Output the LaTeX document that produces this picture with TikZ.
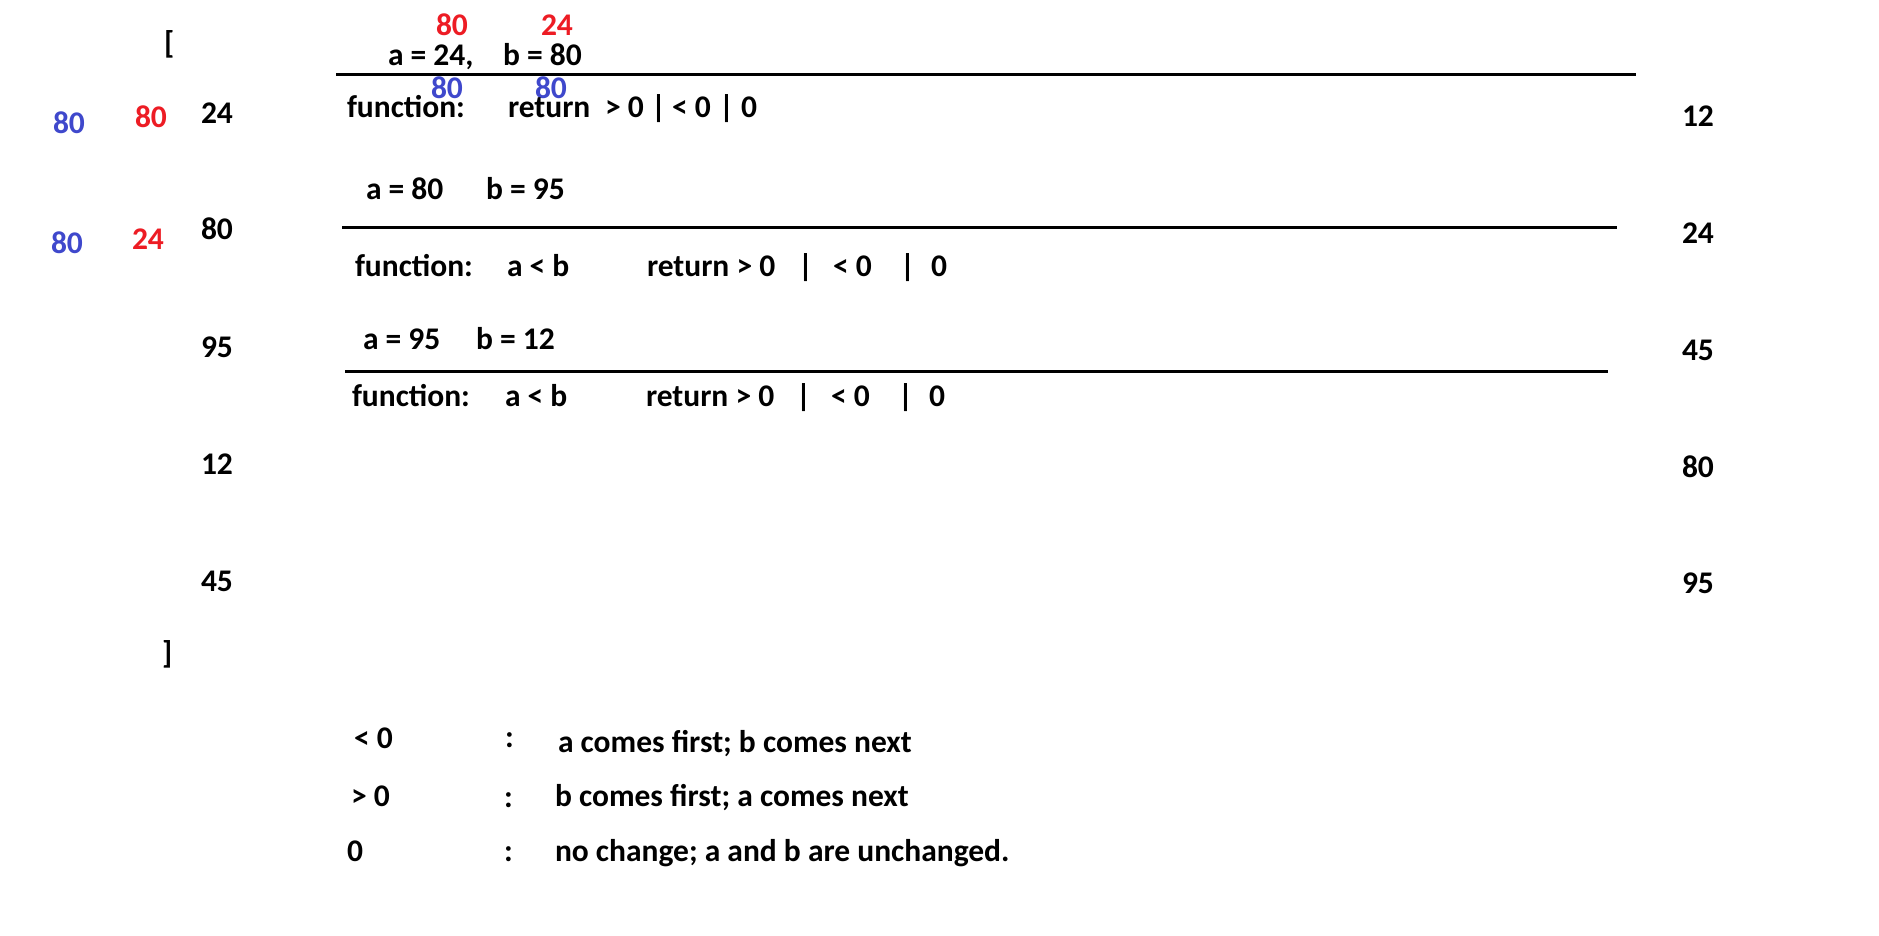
\documentclass[tikz,border=0pt]{standalone}
\usepackage{fontspec}
\setmainfont{Carlito}
\definecolor{pred}{HTML}{ED1C24}
\definecolor{pblue}{HTML}{3F48CC}
\begin{document}
\begin{tikzpicture}[x=1pt,y=-1pt,
  t/.style={anchor=base west,inner sep=0pt,outer sep=0pt,font=\fontsize{31.5}{36}\selectfont\bfseries},
  rd/.style={t,text=pred},
  bl/.style={t,text=pblue},
  rule/.style={line width=3pt}]
\useasboundingbox[fill=white] (0,0) rectangle (1879,935);
% brackets
\node[t] (lbr) at (164,53) {[};
\node[t] (rbr) at (162,663) {]};
% left column
\node[bl] (lb1) at (53,133) {80};
\node[rd] (lr1) at (135,127) {80};
\node[t]  (lc1) at (201,123) {24};
\node[bl] (lb2) at (51,253) {80};
\node[rd] (lr2) at (132,249) {24};
\node[t]  (lc2) at (201,239) {80};
\node[t]  (lc3) at (201,357) {95};
\node[t]  (lc4) at (201,474) {12};
\node[t]  (lc5) at (201,591) {45};
% right column
\node[t] (rc1) at (1682,126) {12};
\node[t] (rc2) at (1682,243) {24};
\node[t] (rc3) at (1682,360) {45};
\node[t] (rc4) at (1682,477) {80};
\node[t] (rc5) at (1682,593) {95};
% step 1
\node[rd] (s1ra) at (436,35) {80};
\node[rd] (s1rb) at (541,35) {24};
\node[t]  (s1a) at (388,65) {a = 24,};
\node[t]  (s1b) at (503,65) {b = 80};
\coordinate (l1s) at (336,74);
\coordinate (l1e) at (1636,74);
\draw[rule] (l1s) -- (l1e);
\node[bl] (s1ba) at (431,98) {80};
\node[bl] (s1bb) at (535,98) {80};
\node[t] (f1) at (347,117) {function:};
\node[t] (f1r) at (508,117) {return};
\node[t] (f1g) at (605,117) {> 0};
\node[t] (f1p) at (651,117) {|};
\node[t] (f1l) at (672,117) {< 0};
\node[t] (f1q) at (719,117) {|};
\node[t] (f1z) at (741,117) {0};
% step 2
\node[t] (s2a) at (366,199) {a = 80};
\node[t] (s2b) at (486,199) {b = 95};
\coordinate (l2s) at (342,227);
\coordinate (l2e) at (1617,227);
\draw[rule] (l2s) -- (l2e);
\node[t] (f2) at (355,276) {function:};
\node[t] (f2c) at (507,276) {a < b};
\node[t] (f2r) at (647,276) {return > 0};
\node[t] (f2p) at (798,276) {|};
\node[t] (f2l) at (833,276) {< 0};
\node[t] (f2q) at (900,276) {|};
\node[t] (f2z) at (931,276) {0};
% step 3
\node[t] (s3a) at (363,349) {a = 95};
\node[t] (s3b) at (476,349) {b = 12};
\coordinate (l3s) at (345,371);
\coordinate (l3e) at (1608,371);
\draw[rule] (l3s) -- (l3e);
\node[t] (f3) at (352,406) {function:};
\node[t] (f3c) at (505,406) {a < b};
\node[t] (f3r) at (646,406) {return > 0};
\node[t] (f3p) at (796,406) {|};
\node[t] (f3l) at (831,406) {< 0};
\node[t] (f3q) at (898,406) {|};
\node[t] (f3z) at (929,406) {0};
% legend
\node[t] (g1k) at (354,748) {< 0};
\node[t] (g1c) at (505,747) {:};
\node[t] (g1t) at (558,752) {a comes first; b comes next};
\node[t] (g2k) at (351,806) {> 0};
\node[t] (g2c) at (504,807) {:};
\node[t] (g2t) at (555,806) {b comes first; a comes next};
\node[t] (g3k) at (347,861) {0};
\node[t] (g3c) at (504,861) {:};
\node[t] (g3t) at (555,861) {no change; a and b are unchanged.};
\end{tikzpicture}
\end{document}
